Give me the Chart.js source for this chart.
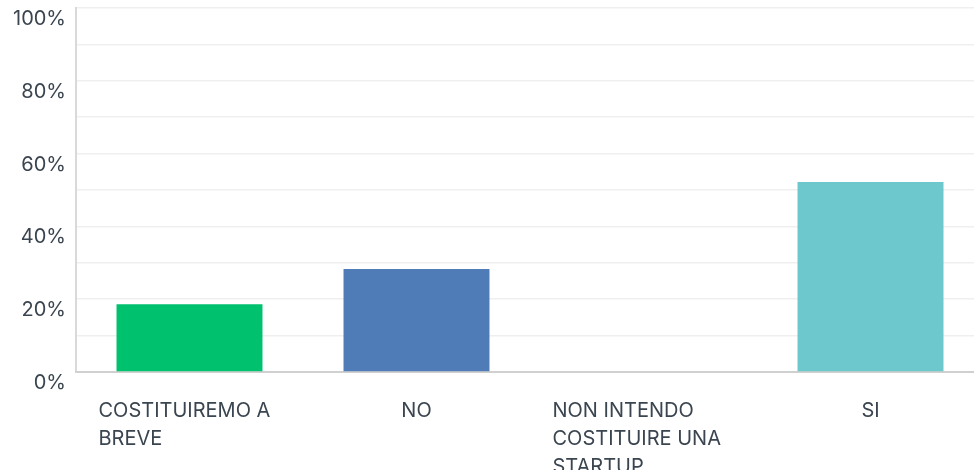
<!DOCTYPE html>
<html>
<head>
<meta charset="utf-8">
<script src="https://cdn.jsdelivr.net/npm/chart.js@4.4.1/dist/chart.umd.min.js"></script>
<style>
  html, body { margin: 0; padding: 0; background: #fff; overflow: hidden; }
  #wrap { width: 984px; height: 470px; position: relative; }
</style>
</head>
<body>
<div id="wrap"><canvas id="my_chart"></canvas></div>
<script>
const categories = [
    ["COSTITUIREMO A", "BREVE"],
    ["NO"],
    ["NON INTENDO", "COSTITUIRE UNA", "STARTUP"],
    ["SI"]
];
const percentages = [18.6, 28.3, 0, 52.2];
const barColors = ["#00c16e", "#4f7cb6", "#8a8a8a", "#6cc8cc"];
const yTicksShown = [0, 20, 40, 60, 80, 100];

const textColor = "#3b4550";
const fontFamily = "Inter, 'Noto Sans', sans-serif";

// draws the category labels under the bars, wrapped ones left aligned like the original
const xLabels = {
    id: "xLabels",
    afterDraw(chart) {
        const ctx = chart.ctx;
        const x = chart.scales.x;
        ctx.save();
        ctx.font = "20px " + fontFamily;
        ctx.fillStyle = textColor;
        ctx.textBaseline = "middle";
        categories.forEach((lines, i) => {
            const cx = x.getPixelForTick(i);
            lines.forEach((line, j) => {
                const y = chart.chartArea.bottom + 39 + j * 28;
                if (lines.length > 1) {
                    ctx.textAlign = "left";
                    ctx.fillText(line, cx - 91, y);
                } else {
                    ctx.textAlign = "center";
                    ctx.fillText(line, cx, y);
                }
            });
        });
        ctx.restore();
    }
};

const info = {
    labels: categories,
    datasets: [
        {
            data: percentages,
            backgroundColor: barColors,
            borderWidth: 0,
            categoryPercentage: 1,
            barPercentage: 0.643
        }
    ]
};

const options = {
    responsive: true,
    maintainAspectRatio: false,
    animation: false,
    layout: { padding: { top: 8, right: 0, bottom: 98, left: 0 } },
    scales: {
        y: {
            min: 0,
            max: 100,
            afterFit: (scale) => {
                scale.width = 76;
                scale.paddingTop = 0;
                scale.paddingBottom = 0;
            },
            ticks: {
                stepSize: 10,
                padding: 10,
                labelOffset: 11,
                color: textColor,
                font: { family: fontFamily, size: 20 },
                callback: (v) => yTicksShown.includes(v) ? v + "%" : ""
            },
            grid: {
                color: "#efefef",
                lineWidth: 1.5,
                drawTicks: false
            },
            border: { display: true, color: "#d9d9d9", width: 2 }
        },
        x: {
            ticks: { display: false },
            grid: { display: false, drawTicks: false },
            border: { display: true, color: "#d0d0d0", width: 2 }
        }
    },
    plugins: {
        legend: { display: false },
        tooltip: { enabled: false }
    }
};

const myChart = new Chart(document.getElementById("my_chart"), {
    type: "bar",
    data: info,
    options,
    plugins: [xLabels]
});
</script>
</body>
</html>
